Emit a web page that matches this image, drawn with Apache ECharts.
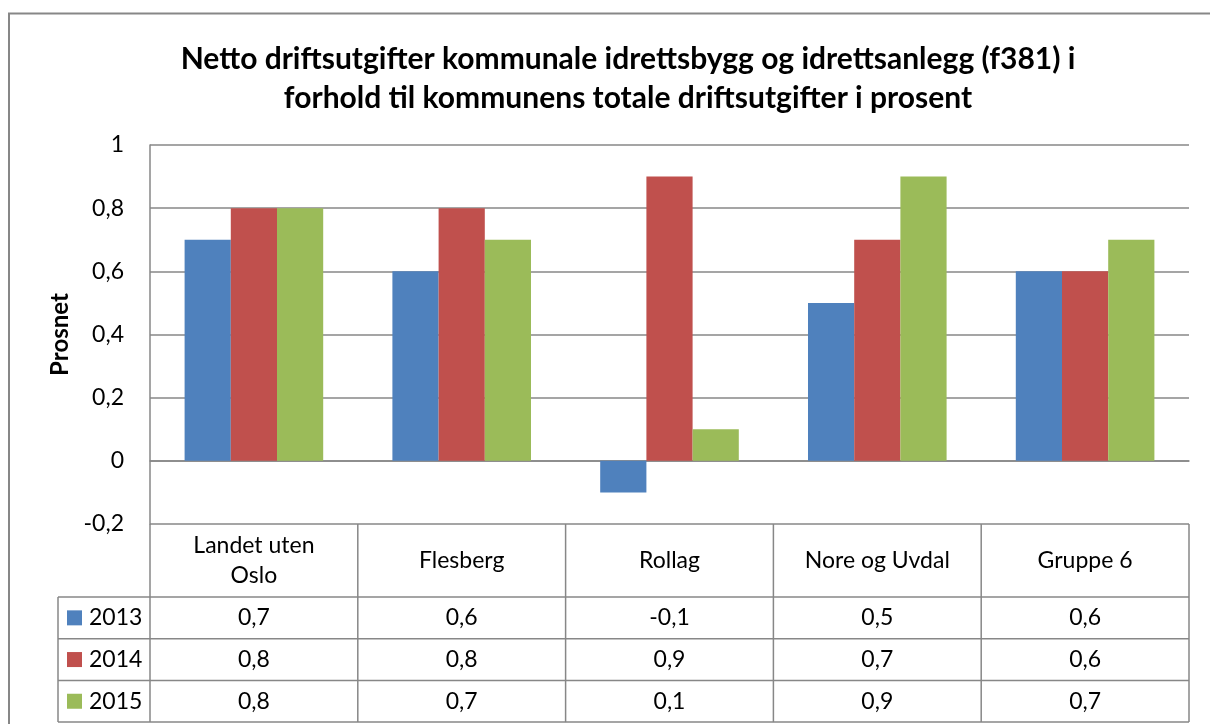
<!DOCTYPE html>
<html>
<head>
<meta charset="utf-8">
<script src="https://cdn.jsdelivr.net/npm/echarts@6/dist/echarts.min.js"></script>
<style>
  html, body { margin: 0; padding: 0; background: #fff; }
  #chart { width: 1210px; height: 724px; }
</style>
</head>
<body>
<div id="chart"></div>
<script>
// Data
const categories = ['Landet uten\nOslo', 'Flesberg', 'Rollag', 'Nore og Uvdal', 'Gruppe 6'];
const seriesNames = ['2013', '2014', '2015'];
const values2013 = [0.7, 0.6, -0.1, 0.5, 0.6];
const values2014 = [0.8, 0.8, 0.9, 0.7, 0.6];
const values2015 = [0.8, 0.7, 0.1, 0.9, 0.7];
const yTicks = { min: -0.2, max: 1, interval: 0.2 };

// Styling
const colors = ['#4F81BD', '#C0504D', '#9BBB59'];
const FONT = 'Lato, "Liberation Sans", sans-serif';
const TEXT_SIZE = 23;
const LINE = '#878787';
const W = 1210, H = 724;
const GRID = { left: 150, top: 145, right: 21, bottom: 200 };
const HEADER_H = 73;
const ROW_H = 41.7;
const KEY_COL_LEFT = 58;

const allValues = [values2013, values2014, values2015];
const fmt = v => String(v).replace('.', ',');

const chart = echarts.init(document.getElementById('chart'), null, { renderer: 'canvas' });

const option = {
  animation: false,
  backgroundColor: '#fff',
  title: {
    text: 'Netto driftsutgifter kommunale idrettsbygg og idrettsanlegg (f381) i\nforhold til kommunens totale driftsutgifter i prosent',
    left: 623,
    top: 35,
    textAlign: 'center',
    textStyle: { fontFamily: FONT, fontSize: 30, fontWeight: 'bold', color: '#000', lineHeight: 39 }
  },
  grid: { left: GRID.left, top: GRID.top, right: GRID.right, bottom: GRID.bottom, containLabel: false },
  xAxis: {
    type: 'category',
    data: categories,
    axisLine: { onZero: true, lineStyle: { color: LINE, width: 1.5 } },
    axisTick: { show: false },
    axisLabel: { show: false },
    splitLine: { show: false }
  },
  yAxis: {
    type: 'value',
    min: yTicks.min,
    max: yTicks.max,
    interval: yTicks.interval,
    name: 'Prosnet',
    nameLocation: 'middle',
    nameRotate: 90,
    nameGap: 78,
    nameTextStyle: { fontFamily: FONT, fontSize: 24, fontWeight: 'bold', color: '#000' },
    axisLine: { show: true, lineStyle: { color: LINE, width: 1.5 } },
    axisTick: { show: false },
    axisLabel: {
      fontFamily: FONT, fontSize: TEXT_SIZE, color: '#000', margin: 26,
      formatter: v => fmt(Math.round(v * 10) / 10)
    },
    splitLine: { show: true, lineStyle: { color: LINE, width: 1.5 } }
  },
  series: seriesNames.map((name, i) => ({
    name,
    type: 'bar',
    data: allValues[i],
    barGap: '0%',
    barCategoryGap: '33.3%',
    itemStyle: { color: colors[i] }
  }))
};

chart.setOption(option);

// Data table under the plot: category header, one row per series with a colour key
function buildTable() {
  const els = [];
  const xLeft = GRID.left;
  const xRight = W - GRID.right;
  const yTop = H - GRID.bottom;
  const rowTops = [yTop + HEADER_H];
  for (let r = 1; r <= seriesNames.length; r++) rowTops.push(yTop + HEADER_H + r * ROW_H);
  const yBottom = rowTops[rowTops.length - 1];

  const centers = categories.map((c, i) => chart.convertToPixel({ xAxisIndex: 0 }, i));
  const bounds = [xLeft];
  for (let i = 0; i < centers.length - 1; i++) bounds.push((centers[i] + centers[i + 1]) / 2);
  bounds.push(xRight);

  const line = (x1, y1, x2, y2) => els.push({
    type: 'line', silent: true,
    shape: { x1, y1, x2, y2 },
    style: { stroke: LINE, lineWidth: 1.5 }
  });
  const text = (t, x, y, align) => els.push({
    type: 'text', silent: true,
    style: {
      text: t, x, y, fill: '#000', font: TEXT_SIZE + 'px ' + FONT,
      textAlign: align || 'center', textVerticalAlign: 'middle', lineHeight: 30
    }
  });

  // vertical column lines
  bounds.forEach(b => line(b, yTop, b, yBottom));
  // key column box
  line(KEY_COL_LEFT, rowTops[0], KEY_COL_LEFT, yBottom);
  // horizontal lines
  rowTops.forEach(y => line(KEY_COL_LEFT, y, xRight, y));

  // header
  categories.forEach((c, i) => text(c, centers[i], yTop + HEADER_H / 2));

  // rows
  seriesNames.forEach((name, r) => {
    const yc = (rowTops[r] + rowTops[r + 1]) / 2;
    els.push({
      type: 'rect', silent: true,
      shape: { x: KEY_COL_LEFT + 9, y: yc - 7.5, width: 15, height: 15 },
      style: { fill: colors[r] }
    });
    text(name, KEY_COL_LEFT + 31, yc, 'left');
    allValues[r].forEach((v, i) => text(fmt(v), centers[i], yc));
  });

  // outer chart frame
  els.push({
    type: 'rect', silent: true,
    shape: { x: 9, y: 13.5, width: 1400, height: 900 },
    style: { fill: 'none', stroke: LINE, lineWidth: 2 }
  });

  chart.setOption({ graphic: { elements: els } });
}
buildTable();
</script>
</body>
</html>
